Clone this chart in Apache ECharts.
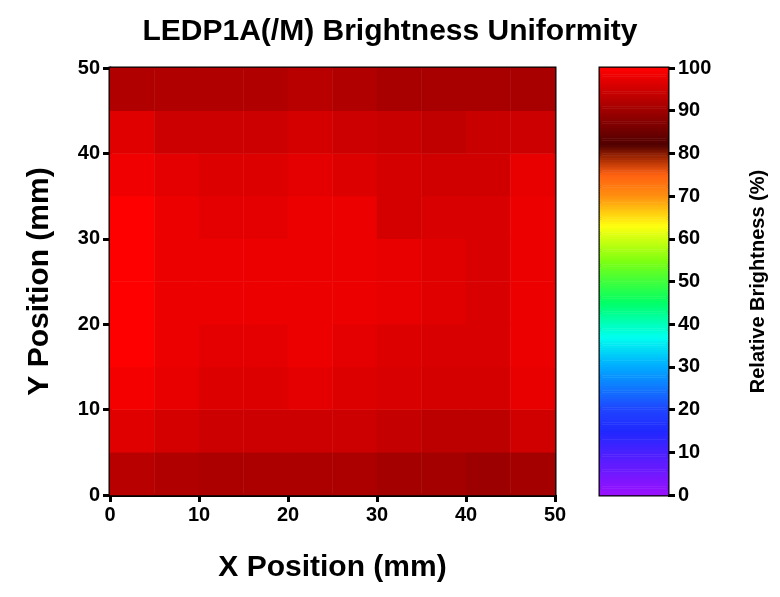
<!DOCTYPE html><html><head><meta charset="utf-8"><script src="https://cdn.jsdelivr.net/npm/echarts@6/dist/echarts.min.js"></script></head><body style="margin:0"><div id="c" style="width:780px;height:597px"></div><script>
// rows from y=0-5 (bottom) up to y=45-50 (top); columns x=0-5 ... 45-50
const xCells=['0-5','5-10','10-15','15-20','20-25','25-30','30-35','35-40','40-45','45-50'];
const yCells=xCells;
const values=[
[92.7,91.9,91.5,91.5,91.5,91.5,90.6,90.6,89.8,90.6],
[96.8,95.6,94.8,94.8,94.8,94.8,93.9,93.1,93.1,95.2],
[98.9,97.6,96.4,96.4,97.2,96.4,96.0,95.6,95.6,97.6],
[100,98.0,97.2,97.2,98.0,97.2,96.4,96.0,96.0,98.0],
[100,98.0,98.0,98.0,98.0,98.0,97.6,96.8,96.0,98.0],
[100,98.0,98.0,98.0,98.0,98.0,97.6,96.8,96.0,98.0],
[100,98.0,97.2,97.2,98.0,98.0,95.6,96.0,96.0,98.0],
[98.5,97.2,96.4,96.4,97.2,96.4,95.6,95.2,95.2,97.6],
[96.8,94.8,94.8,94.8,95.6,94.8,94.3,93.5,94.3,94.8],
[91.9,91.9,91.9,91.9,92.7,91.9,91.05,91.05,91.05,91.05]];
const axisTicks=[0,10,20,30,40,50];
const cbTicks=[0,10,20,30,40,50,60,70,80,90,100];
const stops=[[0,[154,16,255]],[15,[32,40,255]],[20,[31,68,255]],[30,[0,170,255]],[37,[0,255,238]],[45,[0,255,102]],[55,[128,255,16]],[63,[255,255,16]],[70,[255,144,16]],[75,[255,96,16]],[80,[138,26,0]],[82,[80,0,0]],[100,[255,0,0]]];
function col(v){for(let i=1;i<stops.length;i++){if(v<=stops[i][0]){const a=stops[i-1],b=stops[i],t=(v-a[0])/(b[0]-a[0]);return 'rgb('+a[1].map((c,k)=>Math.round(c+(b[1][k]-c)*t)).join(',')+')';}}return 'rgb(255,0,0)';}
const colors=[];for(let v=0;v<=100;v+=0.5)colors.push(col(v));
const levels=[];for(let v=0.25;v<100;v+=0.5)levels.push(v);
const data=[];values.forEach((r,j)=>r.forEach((v,i)=>data.push([i,j,v])));
const cbData=levels.map((v,i)=>[0,i,v]);
const F='Liberation Sans, Arial, sans-serif';
const lab={color:'#000',fontWeight:'bold',fontSize:20,fontFamily:F};
const ax={lineStyle:{color:'#000',width:3}};
const tk={show:true,inside:false,length:7,lineStyle:{color:'#000',width:3}};
const ch=echarts.init(document.getElementById('c'));
ch.setOption({backgroundColor:'#fff',animation:false,
title:{text:'LEDP1A(/M) Brightness Uniformity',left:385,textAlign:'center',top:12,textStyle:{fontFamily:F,fontWeight:'bold',fontSize:30,color:'#000'}},
grid:[{left:110,top:68,width:445,height:427,show:true,borderColor:'#000',borderWidth:3,backgroundColor:'transparent'},
{left:600,top:68,width:68,height:427,show:true,borderColor:'#000',borderWidth:3,backgroundColor:'transparent'}],
xAxis:[{type:'category',gridIndex:0,data:xCells,show:false},
{type:'value',gridIndex:0,min:0,max:50,interval:10,position:'bottom',axisLine:ax,axisTick:tk,axisLabel:Object.assign({margin:10},lab),splitLine:{show:false},name:'X Position (mm)',nameLocation:'middle',nameGap:58,nameTextStyle:{fontFamily:F,fontWeight:'bold',fontSize:30,color:'#000'}},
{type:'category',gridIndex:1,data:['c'],show:false}],
yAxis:[{type:'category',gridIndex:0,data:yCells,show:false},
{type:'value',gridIndex:0,min:0,max:50,interval:10,position:'left',axisLine:ax,axisTick:tk,axisLabel:Object.assign({margin:10},lab),splitLine:{show:false},name:'Y Position (mm)',nameLocation:'middle',nameGap:55,nameTextStyle:{fontFamily:F,fontWeight:'bold',fontSize:30,color:'#000'}},
{type:'category',gridIndex:1,data:levels.map(String),show:false},
{type:'value',gridIndex:1,min:0,max:100,interval:10,position:'right',axisLine:ax,axisTick:tk,axisLabel:Object.assign({margin:10},lab),splitLine:{show:false},name:'Relative Brightness (%)',nameLocation:'middle',nameGap:80,nameRotate:90,nameTextStyle:{fontFamily:F,fontWeight:'bold',fontSize:20,color:'#000'}}],
visualMap:{show:false,min:0,max:100,calculable:false,seriesIndex:[0,1],inRange:{color:colors}},
series:[{type:'heatmap',xAxisIndex:0,yAxisIndex:0,data:data},
{type:'heatmap',xAxisIndex:2,yAxisIndex:2,data:cbData}]});
</script></body></html>
